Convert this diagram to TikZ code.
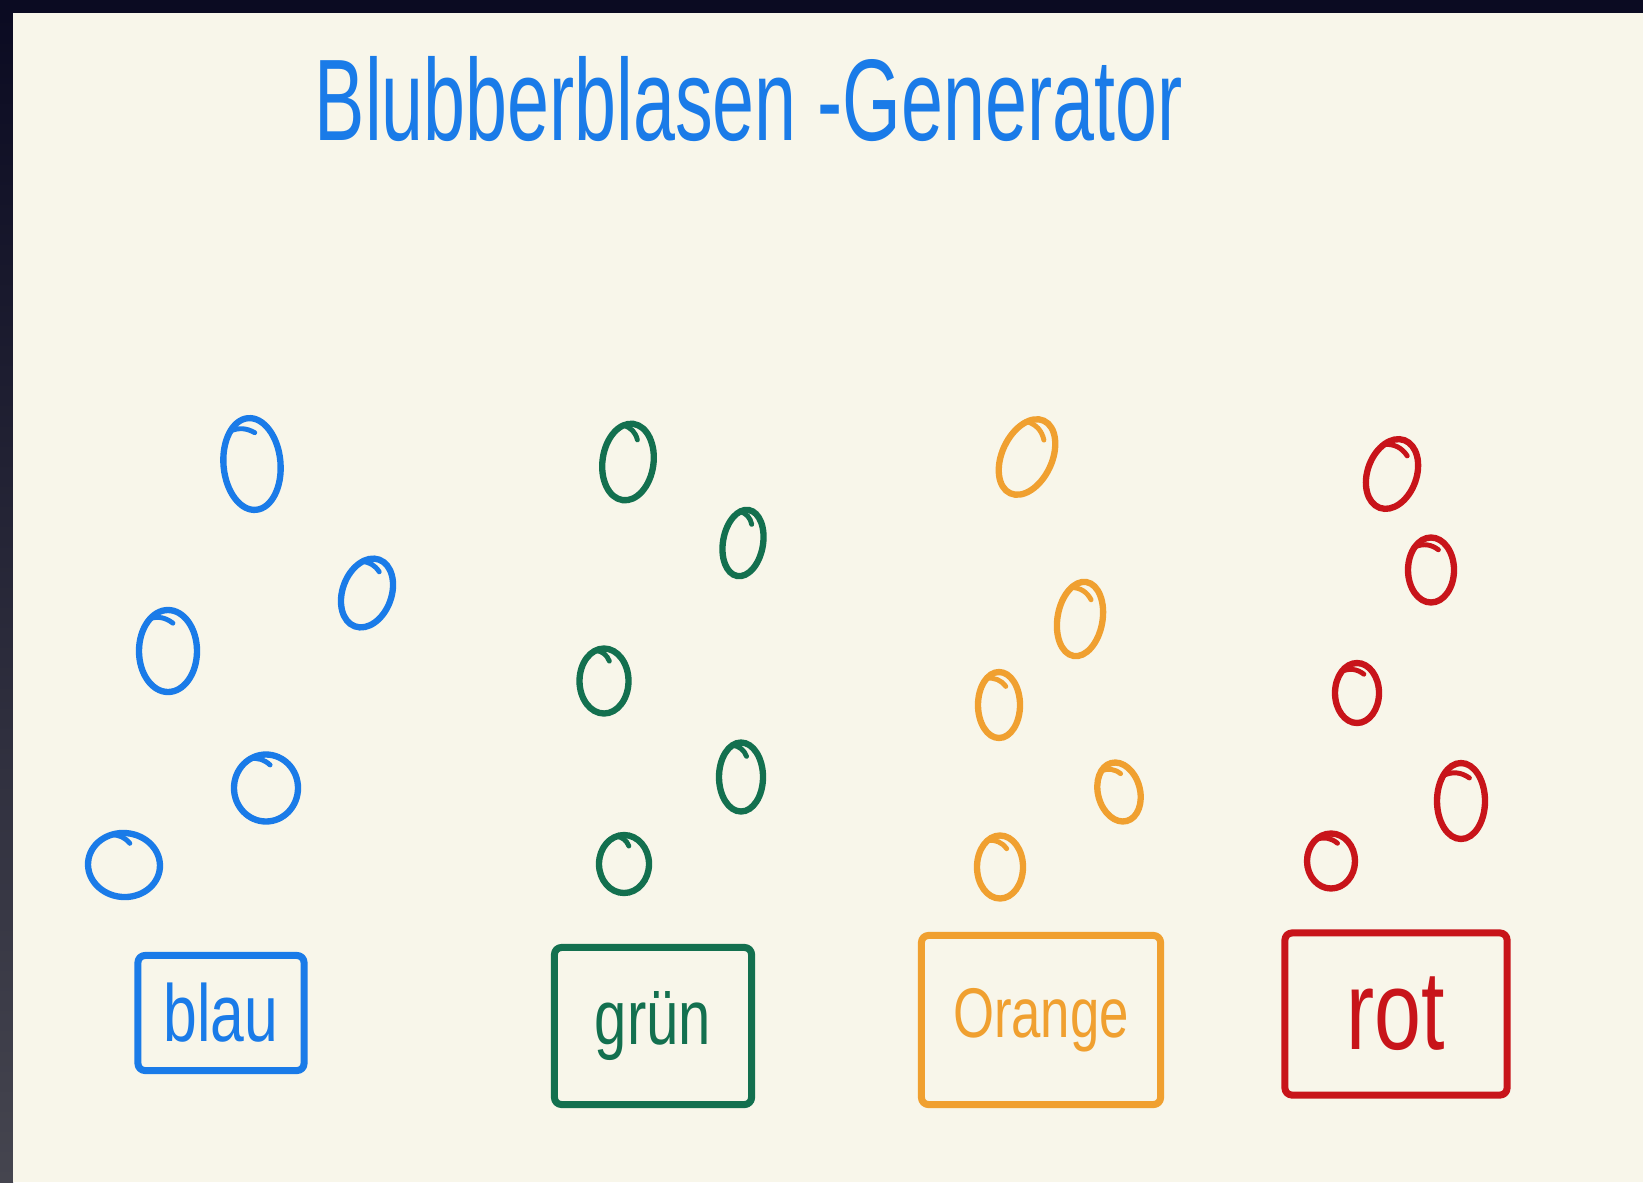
\documentclass[tikz,border=0pt]{standalone}
\usepackage{fontspec}
\newfontfamily\hand[FakeStretch=0.65]{Liberation Sans}
\newfontfamily\handlabel[FakeStretch=0.75]{Liberation Sans}
\usetikzlibrary{shapes.geometric, calc}
\definecolor{papier}{HTML}{F8F6EA}
\definecolor{nacht}{HTML}{0B0B22}
\definecolor{nachtgrau}{HTML}{45454F}
\definecolor{stiftblau}{HTML}{1A7BE8}
\definecolor{stiftgruen}{HTML}{13704F}
\definecolor{stiftorange}{HTML}{F0A030}
\definecolor{stiftrot}{HTML}{C8141A}
\tikzset{bubble/.style={ellipse, draw, line width=1.8pt, inner sep=0pt, outer sep=0pt}}
\tikzset{hook/.style={line width=1.4pt, line cap=round}}
\tikzset{kasten/.style={draw, line width=2pt, rounded corners=2pt, inner sep=0pt, line join=round}}
\newcommand{\labelfont}[1]{\handlabel\fontsize{#1}{#1}\selectfont}

\begin{document}
\begin{tikzpicture}[x=0.01cm, y=-0.01cm]
		% Blatt
		\fill[nacht] (0,0) rectangle (1643,1182);
		\shade[top color=nacht, bottom color=nachtgrau] (0,13) rectangle (13,1182);
		\fill[papier] (13,13) rectangle (1643,1182);
		
		\node[anchor=base west, inner sep=0pt, text=stiftblau, font=\hand\fontsize{33}{38}\selectfont] (titel) at (314,141) {Blubberblasen -Generator};
		
		\begin{scope}[stiftblau]
			\node[kasten, minimum width=1.66cm, minimum height=1.15cm, font=\labelfont{23}] (blau) at (221,1013) {blau};
			\foreach \n/\x/\y/\w/\h/\r in {b1/252/464/57/92/5, b2/367/593/49/71/-20, b3/168/651/58/82/0, b4/266/788/64/67/0, b5/124/865/72/64/-5}{
				\node[bubble, minimum width=\w*0.01cm, minimum height=\h*0.01cm, rotate=\r] (\n) at (\x,\y) {};
				\draw[hook] (\n.118) to[bend left=25] ($(\n.80)!0.3!(\n.center)$);
			}
		\end{scope}
		
		\begin{scope}[stiftgruen]
			\node[kasten, minimum width=1.97cm, minimum height=1.57cm, font=\labelfont{22}] (gruen) at (653,1026) {grün};
			\foreach \n/\x/\y/\w/\h/\r in {g1/628/462/51/77/-8, g2/743/543/40/67/-10, g3/604/681/49/65/0, g4/741/777/44/69/0, g5/624/864/50/58/0}{
				\node[bubble, minimum width=\w*0.01cm, minimum height=\h*0.01cm, rotate=\r] (\n) at (\x,\y) {};
				\draw[hook] (\n.105) to[bend left=30] ($(\n.75)!0.35!(\n.center)$);
			}
		\end{scope}
		
		\begin{scope}[stiftorange]
			\node[kasten, minimum width=2.39cm, minimum height=1.69cm, font=\labelfont{20}] (orange) at (1041,1020) {\raisebox{4pt}{Orange}};
			\foreach \n/\x/\y/\w/\h/\r in {o1/1027/457/50/80/-25, o2/1080/619/45/75/-10, o3/999/705/42/66/0, o4/1119/792/42/60/15, o5/1000/867/46/63/0}{
				\node[bubble, minimum width=\w*0.01cm, minimum height=\h*0.01cm, rotate=\r] (\n) at (\x,\y) {};
				\draw[hook] (\n.115) to[bend left=30] ($(\n.70)!0.35!(\n.center)$);
			}
		\end{scope}
		
		\begin{scope}[stiftrot]
			\node[kasten, minimum width=2.22cm, minimum height=1.62cm, font=\labelfont{32}] (rot) at (1396,1014) {rot};
			\foreach \n/\x/\y/\w/\h/\r in {r1/1392/474/49/72/-20, r2/1431/570/46/65/0, r3/1357/693/44/60/0, r4/1461/801/48/76/0, r5/1331/861/48/55/0}{
				\node[bubble, minimum width=\w*0.01cm, minimum height=\h*0.01cm, rotate=\r] (\n) at (\x,\y) {};
				\draw[hook] (\n.125) to[bend left=30] ($(\n.70)!0.3!(\n.center)$);
			}
		\end{scope}
	\end{tikzpicture}
\end{document}
